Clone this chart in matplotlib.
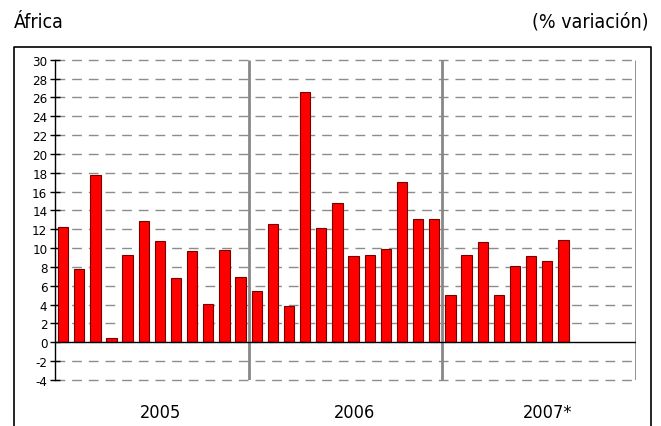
import matplotlib
matplotlib.use("Agg")
import matplotlib.pyplot as plt
import matplotlib.transforms as mtransforms
from matplotlib.lines import Line2D

plt.rcParams['font.family'] = ['DejaVu Sans']
plt.rcParams['font.stretch'] = 'condensed'

# datos: variación mensual (%), 12 meses por año, 2007 hasta agosto
years = ["2005", "2006", "2007*"]
v2005 = [12.2, 7.8, 17.8, 0.45, 9.25, 12.9, 10.8, 6.85, 9.65, 4.1, 9.8, 6.9]
v2006 = [5.45, 12.6, 3.85, 26.6, 12.1, 14.8, 9.15, 9.25, 9.9, 17.0, 13.05, 13.1]
v2007 = [5.0, 9.25, 10.65, 5.0, 8.05, 9.2, 8.6, 10.9]
yticks = list(range(-4, 31, 2))

values = v2005 + v2006 + v2007
n_slots = 36

fig = plt.figure(figsize=(6.61, 4.27), dpi=100)
ax = fig.add_axes([55 / 661, 1 - 381 / 427, 581 / 661, 320.3 / 427])

x = [i + 0.5 for i in range(len(values))]
ax.bar(x, values, width=0.64, color='#FF0000', edgecolor='#7a0000', linewidth=0.8, zorder=3)

ax.set_xlim(0, n_slots)
ax.set_ylim(-4, 30)
ax.set_yticks(yticks)
ax.set_yticklabels([str(t) for t in yticks], fontsize=9.5)
ax.set_xticks([])

# rejilla horizontal discontinua
for t in yticks:
    if t == 0:
        continue
    ax.axhline(t, color='#8c8c8c', lw=1, dashes=(7, 5), zorder=1, clip_on=False)
ax.axhline(0, color='black', lw=1, zorder=4)

# separadores de año
for xs in (12, 24, 36):
    ax.vlines(xs, -4, 30, color='#888888', lw=2, zorder=2)

for s in ('top', 'right', 'bottom'):
    ax.spines[s].set_visible(False)
ax.spines['left'].set_color('black')
ax.spines['left'].set_linewidth(1)
ax.tick_params(axis='y', direction='inout', length=7, width=1, color='black', pad=2)

# etiquetas de año (ligeramente a la derecha del centro del grupo)
trans = mtransforms.blended_transform_factory(ax.transData, fig.transFigure)
for i, y in enumerate(years):
    ax.text(12 * i + 6.55, 1 - 413 / 427, y, transform=trans, ha='center', va='center', fontsize=13)

# marco exterior
fx0, fx1, fy = 14 / 661, 651 / 661, 1 - 48 / 427
fig.add_artist(Line2D([fx0, fx0, fx1, fx1], [0, fy, fy, 0], color='black', lw=1.2, transform=fig.transFigure))

fig.text(14 / 661, 1 - 22 / 427, "África", ha='left', va='center', fontsize=14)
fig.text(648 / 661, 1 - 22 / 427, "(% variación)", ha='right', va='center', fontsize=14)

fig.savefig("out.png", dpi=100)
